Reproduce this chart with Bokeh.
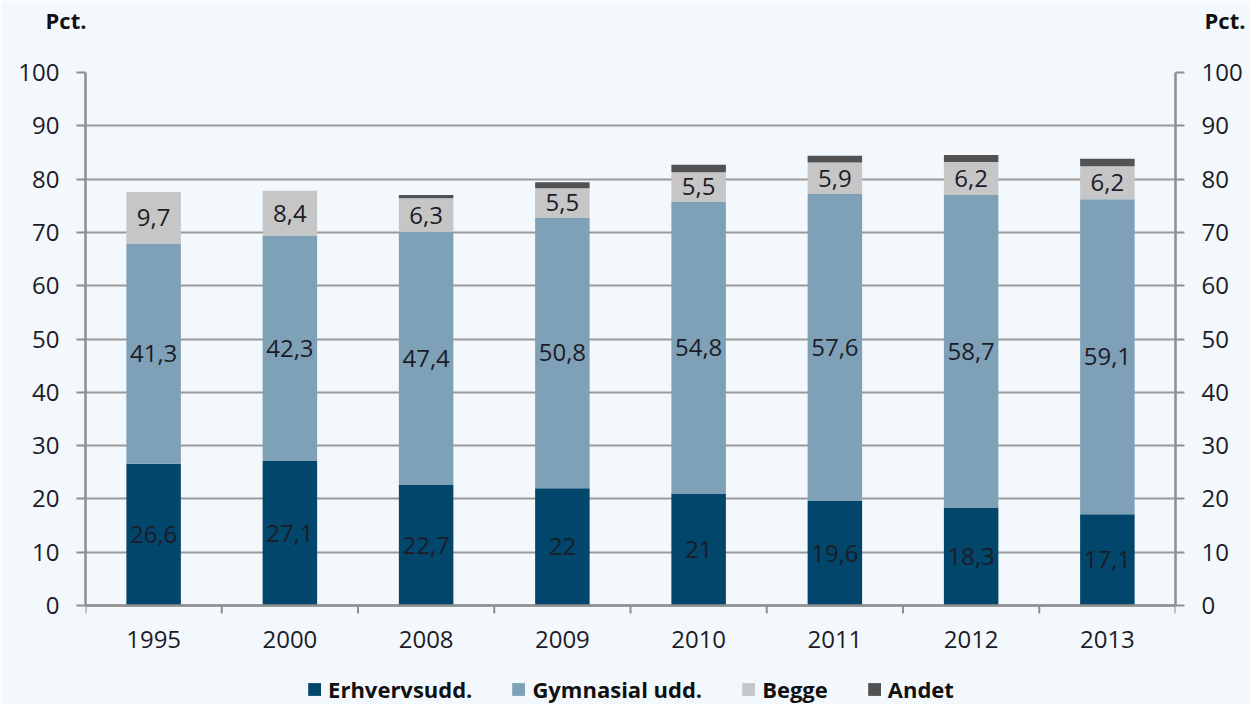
from bokeh.plotting import figure
from bokeh.models import (Range1d, LinearAxis, FixedTicker, Legend, LegendItem,
                          ColumnDataSource, Label, Span)
from bokeh.core.properties import value
from bokeh.embed import file_html
from bokeh.resources import INLINE

years = ["1995", "2000", "2008", "2009", "2010", "2011", "2012", "2013"]
erhverv = [26.6, 27.1, 22.7, 22.0, 21.0, 19.6, 18.3, 17.1]
gymnasial = [41.3, 42.3, 47.4, 50.8, 54.8, 57.6, 58.7, 59.1]
begge = [9.7, 8.4, 6.3, 5.5, 5.5, 5.9, 6.2, 6.2]
andet = [0.0, 0.0, 0.6, 1.1, 1.4, 1.3, 1.3, 1.4]
series_names = ["Erhvervsudd.", "Gymnasial udd.", "Begge", "Andet"]
colors = ["#02466c", "#7fa1b7", "#c6c6c6", "#525252"]
y_ticks = list(range(0, 101, 10))

BG = "#f3f8fd"
FONT = "Open Sans"
TXT = "#1c1c28"
GRAY = "#8e8e8e"

n = len(years)
xs = [i + 0.5 for i in range(n)]
bounds_x = list(range(n + 1))

def fmt(v):
    return f"{v:g}".replace(".", ",")

src = ColumnDataSource(dict(x=xs, erhverv=erhverv, gymnasial=gymnasial,
                            begge=begge, andet=andet))

# frame extends below zero so the category labels and legend live inside it
p = figure(frame_width=1090, frame_height=632, output_backend="svg", toolbar_location=None,
           x_range=Range1d(0, n), y_range=Range1d(-18.57, 100),
           background_fill_color=BG, border_fill_color=BG,
           min_border_left=85, min_border_right=75, min_border_top=72,
           min_border_bottom=0, x_axis_location=None, y_axis_location=None)
p.outline_line_color = None

p.ygrid.ticker = FixedTicker(ticks=y_ticks)
p.ygrid.grid_line_color = "#9a9a9a"
p.ygrid.grid_line_width = 2
p.xgrid.grid_line_color = None

rends = p.vbar_stack(["erhverv", "gymnasial", "begge", "andet"], x="x", width=0.4,
                     color=colors, line_color=None, source=src)

b0 = [0] * n
b1 = erhverv
b2 = [a + b for a, b in zip(erhverv, gymnasial)]
for bottoms, vals in [(b0, erhverv), (b1, gymnasial), (b2, begge)]:
    lsrc = ColumnDataSource(dict(x=xs, y=[b + v / 2 for b, v in zip(bottoms, vals)],
                                 t=[fmt(v) for v in vals]))
    p.text(x="x", y="y", text="t", source=lsrc, text_align="center",
           text_baseline="middle", text_font=value(FONT),
           text_font_size="24px", text_color=TXT)

# category axis: baseline, boundary ticks and year labels
p.add_layout(Span(location=0, dimension="width", line_color=GRAY, line_width=2.5))
tsrc = ColumnDataSource(dict(x=bounds_x, y0=[0] * len(bounds_x), y1=[-1.5] * len(bounds_x)))
p.segment(x0="x", y0="y0", x1="x", y1="y1", source=tsrc, line_color=GRAY, line_width=2)
ysrc = ColumnDataSource(dict(x=xs, y=[-6.4] * n, t=years))
p.text(x="x", y="y", text="t", source=ysrc, text_align="center", text_baseline="middle",
       text_font=value(FONT), text_font_size="24px", text_color=TXT)

for side in ["left", "right"]:
    ax = LinearAxis(ticker=FixedTicker(ticks=y_ticks), bounds=(0, 100))
    ax.axis_line_color = GRAY
    ax.axis_line_width = 2.5
    ax.major_tick_line_color = GRAY
    ax.major_tick_line_width = 2
    ax.major_tick_out = 9
    ax.major_tick_in = 0
    ax.minor_tick_line_color = None
    ax.major_label_text_font = FONT
    ax.major_label_text_font_size = "24px"
    ax.major_label_text_color = TXT
    ax.major_label_standoff = 17
    p.add_layout(ax, side)

p.add_layout(Label(x=-40, y=53, x_units="screen", y_units="screen", text="Pct.",
                   text_font=FONT, text_font_size="22px", text_font_style="bold",
                   text_color="#111111", text_baseline="middle", text_align="left"), "above")
p.add_layout(Label(x=1160, y=23, x_units="screen", y_units="screen", text="Pct.",
                   text_font=FONT, text_font_size="22px", text_font_style="bold",
                   text_color="#111111", text_baseline="middle", text_align="right"), "above")

legend = Legend(items=[LegendItem(label=nm, renderers=[r]) for nm, r in zip(series_names, rends)],
                orientation="horizontal", location="bottom_center")
legend.label_text_font = FONT
legend.label_text_font_size = "22px"
legend.label_text_font_style = "bold"
legend.label_text_color = "#111111"
legend.glyph_width = 16
legend.glyph_height = 16
legend.label_standoff = 6
legend.spacing = 38
legend.padding = 0
legend.margin = 0
legend.background_fill_alpha = 0
legend.border_line_alpha = 0
p.add_layout(legend, "center")

open("out.html", "w").write(file_html(p, INLINE))
